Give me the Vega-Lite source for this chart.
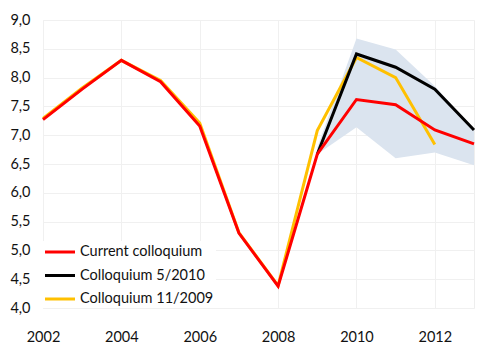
{
  "$schema": "https://vega.github.io/schema/vega-lite/v6.json",
  "width": 431,
  "height": 288,
  "autosize": {"type": "none"},
  "padding": {"left": 43, "top": 20, "right": 26, "bottom": 46},
  "background": "white",
  "config": {
    "font": "Lato",
    "view": {"stroke": "#eeeeee", "strokeWidth": 1},
    "axis": {"grid": true, "gridColor": "#f0f0f0", "gridWidth": 1, "domain": false, "ticks": false, "labelFont": "Lato", "labelFontSize": 14.5, "labelColor": "#111111", "title": null, "labelOverlap": false}
  },
  "datasets": {
    "lines": [
      {"year": 2002, "series": "Current colloquium", "value": 7.27},
      {"year": 2003, "series": "Current colloquium", "value": 7.8},
      {"year": 2004, "series": "Current colloquium", "value": 8.3},
      {"year": 2005, "series": "Current colloquium", "value": 7.93},
      {"year": 2006, "series": "Current colloquium", "value": 7.16},
      {"year": 2007, "series": "Current colloquium", "value": 5.3},
      {"year": 2008, "series": "Current colloquium", "value": 4.38},
      {"year": 2009, "series": "Current colloquium", "value": 6.67},
      {"year": 2010, "series": "Current colloquium", "value": 7.62},
      {"year": 2011, "series": "Current colloquium", "value": 7.53},
      {"year": 2012, "series": "Current colloquium", "value": 7.09},
      {"year": 2013, "series": "Current colloquium", "value": 6.85},
      {"year": 2009, "series": "Colloquium 5/2010", "value": 6.67},
      {"year": 2010, "series": "Colloquium 5/2010", "value": 8.41},
      {"year": 2011, "series": "Colloquium 5/2010", "value": 8.18},
      {"year": 2012, "series": "Colloquium 5/2010", "value": 7.8},
      {"year": 2013, "series": "Colloquium 5/2010", "value": 7.09},
      {"year": 2002, "series": "Colloquium 11/2009", "value": 7.29},
      {"year": 2003, "series": "Colloquium 11/2009", "value": 7.82},
      {"year": 2004, "series": "Colloquium 11/2009", "value": 8.3},
      {"year": 2005, "series": "Colloquium 11/2009", "value": 7.95},
      {"year": 2006, "series": "Colloquium 11/2009", "value": 7.21},
      {"year": 2007, "series": "Colloquium 11/2009", "value": 5.31},
      {"year": 2008, "series": "Colloquium 11/2009", "value": 4.39},
      {"year": 2009, "series": "Colloquium 11/2009", "value": 7.08},
      {"year": 2010, "series": "Colloquium 11/2009", "value": 8.35},
      {"year": 2011, "series": "Colloquium 11/2009", "value": 8.0},
      {"year": 2012, "series": "Colloquium 11/2009", "value": 6.84}
    ],
    "band": [
      {"year": 2009, "lo": 6.67, "hi": 6.78},
      {"year": 2010, "lo": 7.14, "hi": 8.68},
      {"year": 2011, "lo": 6.6, "hi": 8.49},
      {"year": 2012, "lo": 6.7, "hi": 7.85},
      {"year": 2013, "lo": 6.48, "hi": 7.1}
    ]
  },
  "encoding": {
    "x": {
      "field": "year", "type": "quantitative",
      "scale": {"domain": [2002, 2013], "nice": false, "zero": false},
      "axis": {"values": [2002, 2004, 2006, 2008, 2010, 2012], "format": "d", "labelPadding": 22, "labelFlush": false}
    }
  },
  "layer": [
    {
      "data": {"name": "band"},
      "mark": {"type": "area", "color": "#dbe4ef", "opacity": 1},
      "encoding": {
        "y": {"field": "lo", "type": "quantitative", "scale": {"domain": [4, 9], "nice": false, "zero": false},
          "axis": {"values": [4, 4.5, 5, 5.5, 6, 6.5, 7, 7.5, 8, 8.5, 9], "labelExpr": "replace(format(datum.value, '.1f'), '.', ',')", "labelPadding": 13, "labelOverlap": false}},
        "y2": {"field": "hi"}
      }
    },
    {
      "data": {"name": "lines"},
      "transform": [{"filter": "datum.series === 'Colloquium 11/2009'"}],
      "mark": {"type": "line", "strokeWidth": 3, "strokeJoin": "miter"},
      "encoding": {
        "y": {"field": "value", "type": "quantitative", "scale": {"domain": [4, 9], "nice": false, "zero": false},
          "axis": {"values": [4, 4.5, 5, 5.5, 6, 6.5, 7, 7.5, 8, 8.5, 9], "labelExpr": "replace(format(datum.value, '.1f'), '.', ',')", "labelPadding": 13, "labelOverlap": false}},
        "color": {"field": "series", "type": "nominal"}
      }
    },
    {
      "data": {"name": "lines"},
      "transform": [{"filter": "datum.series === 'Colloquium 5/2010'"}],
      "mark": {"type": "line", "strokeWidth": 3, "strokeJoin": "miter"},
      "encoding": {
        "y": {"field": "value", "type": "quantitative", "scale": {"domain": [4, 9], "nice": false, "zero": false},
          "axis": {"values": [4, 4.5, 5, 5.5, 6, 6.5, 7, 7.5, 8, 8.5, 9], "labelExpr": "replace(format(datum.value, '.1f'), '.', ',')", "labelPadding": 13, "labelOverlap": false}},
        "color": {"field": "series", "type": "nominal"}
      }
    },
    {
      "data": {"name": "lines"},
      "transform": [{"filter": "datum.series === 'Current colloquium'"}],
      "mark": {"type": "line", "strokeWidth": 3, "strokeJoin": "miter"},
      "encoding": {
        "y": {"field": "value", "type": "quantitative", "scale": {"domain": [4, 9], "nice": false, "zero": false},
          "axis": {"values": [4, 4.5, 5, 5.5, 6, 6.5, 7, 7.5, 8, 8.5, 9], "labelExpr": "replace(format(datum.value, '.1f'), '.', ',')", "labelPadding": 13, "labelOverlap": false}},
        "color": {
          "field": "series", "type": "nominal",
          "scale": {"domain": ["Current colloquium", "Colloquium 5/2010", "Colloquium 11/2009"], "range": ["#ff0000", "#000000", "#ffc000"]},
          "legend": {
            "title": null,
            "orient": "bottom-left",
            "offset": 0,
            "fillColor": "white",
            "padding": 2,
            "symbolType": "M-1.2,0H2.8",
            "symbolSize": 225,
            "symbolStrokeWidth": 3,
            "labelFont": "Lato",
            "labelFontSize": 14.5,
            "labelColor": "#111111",
            "labelOffset": 17,
            "rowPadding": 7.5
          }
        }
      }
    }
  ]
}
